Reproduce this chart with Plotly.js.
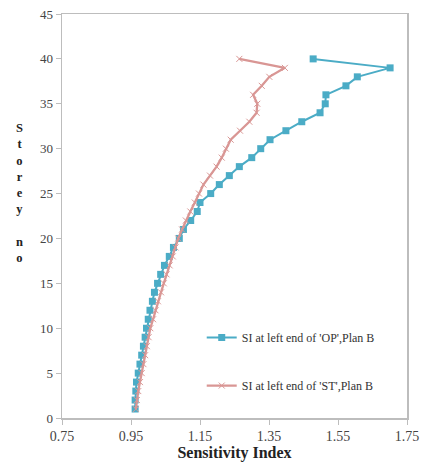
<!DOCTYPE html>
<html>
<head>
<meta charset="utf-8">
<script src="https://cdn.plot.ly/plotly-3.0.1.min.js"></script>
<style>
  html, body { margin: 0; padding: 0; background: #fff; }
  #chart { width: 422px; height: 464px; }
</style>
</head>
<body>
<div id="chart"></div>
<script>
// Storey numbers 1..40
const storeys = [1,2,3,4,5,6,7,8,9,10,11,12,13,14,15,16,17,18,19,20,
                 21,22,23,24,25,26,27,28,29,30,31,32,33,34,35,36,37,38,39,40];

// Sensitivity index at the left end of 'OP', Plan B
const siOP = [0.962,0.962,0.964,0.966,0.971,0.976,0.981,0.986,0.991,0.995,
              1.000,1.005,1.012,1.018,1.027,1.036,1.047,1.061,1.073,1.090,
              1.102,1.123,1.142,1.150,1.181,1.206,1.235,1.264,1.300,1.326,
              1.353,1.399,1.445,1.498,1.513,1.515,1.573,1.606,1.701,1.478];

// Sensitivity index at the left end of 'ST', Plan B
const siST = [0.964,0.967,0.971,0.976,0.981,0.986,0.991,0.996,1.001,1.006,
              1.014,1.021,1.028,1.037,1.045,1.053,1.062,1.071,1.079,1.087,
              1.098,1.109,1.122,1.135,1.147,1.160,1.179,1.198,1.213,1.225,
              1.239,1.266,1.293,1.314,1.316,1.304,1.329,1.351,1.396,1.264];

const seriesNames = ["SI at left end of 'OP',Plan B", "SI at left end of 'ST',Plan B"];
const xTicks = [0.75, 0.95, 1.15, 1.35, 1.55, 1.75];
const yTicks = [0, 5, 10, 15, 20, 25, 30, 35, 40, 45];
const yTitleLetters = ['S','t','o','r','e','y','','n','o'];

const serif = 'Liberation Serif, Times New Roman, serif';

const traces = [
  {
    x: siOP, y: storeys, name: seriesNames[0], legendgroup: 'op',
    type: 'scatter', mode: 'lines+markers',
    line: { color: 'rgb(75,172,198)', width: 2 },
    marker: { symbol: 'square', size: 7, color: 'rgb(75,172,198)' }
  },
  {
    x: siST, y: storeys, name: seriesNames[1], legendgroup: 'st',
    type: 'scatter', mode: 'lines+markers',
    line: { color: 'rgb(217,150,148)', width: 2.3 },
    marker: { symbol: 'x-thin-open', size: 6, color: 'rgb(217,150,148)',
              line: { color: 'rgb(217,150,148)', width: 1 } }
  }
];

// Storey axis label written as a vertical column of letters
const yTitle = {
  text: yTitleLetters.map(ch => ch === '' ? ' ' : ch).join('<br>'),
  showarrow: false, align: 'center',
  xref: 'paper', yref: 'paper',
  x: -0.122, xanchor: 'center',
  y: (418 - 193) / 404, yanchor: 'middle',
  font: { family: serif, size: 12.5, color: '#222', weight: 'bold' }
};

const layout = {
  width: 422, height: 464,
  margin: { l: 62, r: 15, t: 14, b: 46 },
  paper_bgcolor: '#fff', plot_bgcolor: '#fff',
  showlegend: true,
  legend: {
    x: 0.405, y: 0.235, xanchor: 'left', yanchor: 'top',
    bgcolor: 'rgba(0,0,0,0)', borderwidth: 0,
    font: { family: serif, size: 12, color: '#333' },
    itemwidth: 30, tracegroupgap: 29
  },
  xaxis: {
    range: [0.75, 1.75], tickvals: xTicks,
    ticktext: xTicks.map(v => v.toFixed(2)),
    showgrid: false, zeroline: false,
    showline: true, mirror: true, linecolor: '#BDBDBD', linewidth: 1.5,
    ticks: 'outside', ticklen: 5, tickcolor: '#BDBDBD',
    tickfont: { family: serif, size: 14, color: '#444' },
    title: { text: 'Sensitivity Index', standoff: 3,
             font: { family: serif, size: 16, color: '#222', weight: 'bold' } }
  },
  yaxis: {
    range: [0, 45], tickvals: yTicks,
    showgrid: false, zeroline: false,
    showline: true, mirror: true, linecolor: '#BDBDBD', linewidth: 1.5,
    ticks: 'outside', ticklen: 5, tickcolor: '#BDBDBD',
    tickfont: { family: serif, size: 13, color: '#444' }
  },
  annotations: [yTitle]
};

Plotly.newPlot('chart', traces, layout, { displayModeBar: false, staticPlot: true });
</script>
</body>
</html>
